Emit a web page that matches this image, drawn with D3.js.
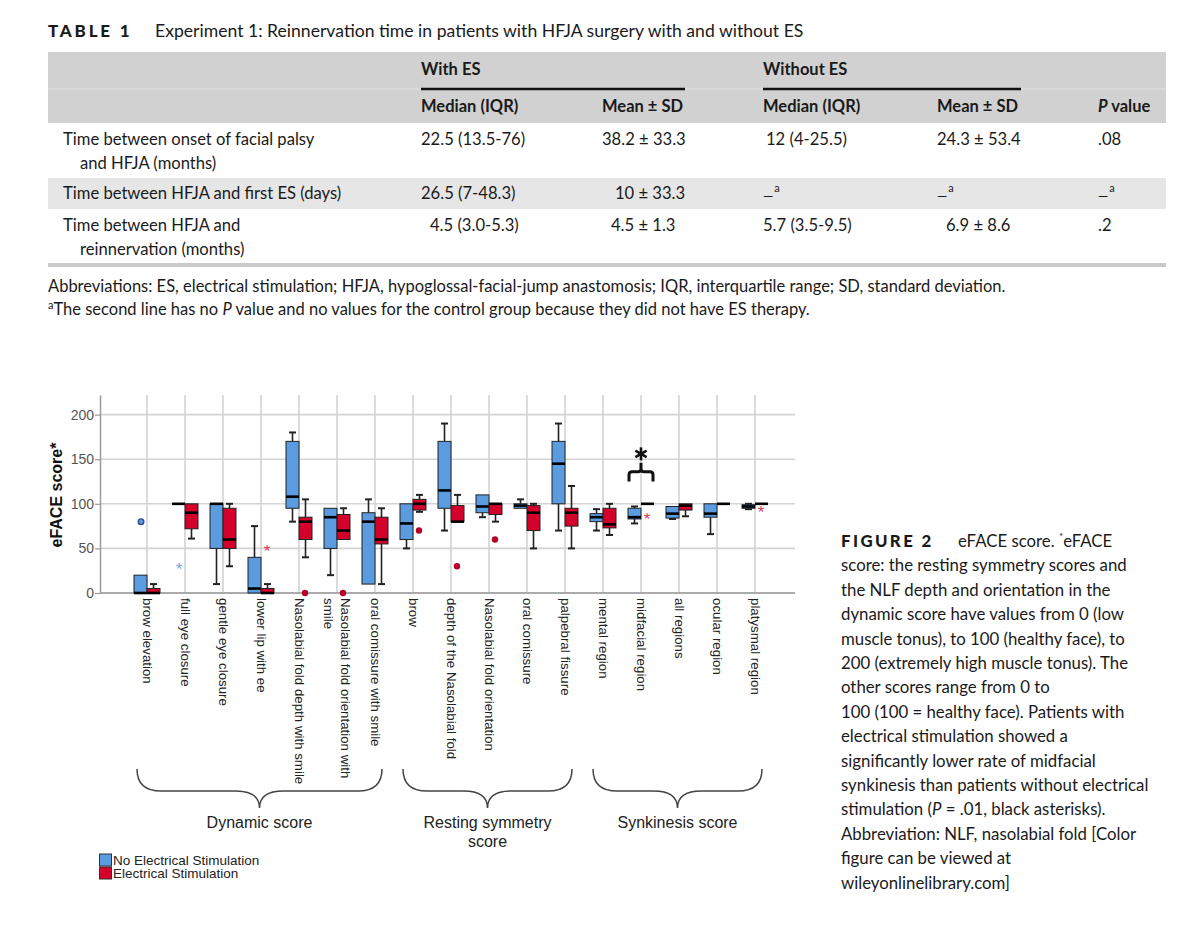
<!DOCTYPE html>
<html>
<head>
<meta charset="utf-8">
<script src="https://cdn.jsdelivr.net/npm/d3@7"></script>
<style>
body { margin: 0; background: #fff; }
</style>
</head>
<body>
<svg id="fig" width="1200" height="948"></svg>
<script>
// ---- table data ----
const tableTitle = "Experiment 1: Reinnervation time in patients with HFJA surgery with and without ES";
const headGroups = ["With ES", "Without ES"];
const headCols = ["Median (IQR)", "Mean \u00b1 SD", "Median (IQR)", "Mean \u00b1 SD", "P value"];
const rowLabels = [
  ["Time between onset of facial palsy", "and HFJA (months)"],
  ["Time between HFJA and first ES (days)"],
  ["Time between HFJA and", "reinnervation (months)"]
];
const rowValues = [
  ["22.5 (13.5-76)", "38.2 \u00b1 33.3", "12 (4-25.5)", "24.3 \u00b1 53.4", ".08"],
  ["26.5 (7-48.3)", "10 \u00b1 33.3", "\u2014a", "\u2014a", "\u2014a"],
  ["4.5 (3.0-5.3)", "4.5 \u00b1 1.3", "5.7 (3.5-9.5)", "6.9 \u00b1 8.6", ".2"]
];
const abbrevText = "Abbreviations: ES, electrical stimulation; HFJA, hypoglossal-facial-jump anastomosis; IQR, interquartile range; SD, standard deviation.";

// ---- chart data ----
const categories = [
  "brow elevation", "full eye closure", "gentle eye closure", "lower lip with ee",
  "Nasolabial fold depth with smile", "Nasolabial fold orientation with smile",
  "oral comissure with smile",
  "brow", "depth of the Nasolabial fold", "Nasolabial fold orientation",
  "oral comissure", "palpebral fissure",
  "mental region", "midfacial region", "all regions", "ocular region", "platysmal region"
];
// [min, q1, median, q3, max]
const noEsStats = [
  [0, 0, 0, 20, 20], [100, 100, 100, 100, 100], [10, 50, 100, 100, 100], [0, 0, 5, 40, 75],
  [80, 95, 108, 170, 180], [20, 50, 85, 95, 95], [10, 10, 80, 90, 105],
  [50, 60, 78, 100, 100], [70, 95, 115, 170, 190], [85, 90, 97, 110, 110],
  [95, 95, 98, 100, 105], [70, 100, 145, 170, 190],
  [70, 80, 85, 89, 94], [78, 83, 85, 95, 97], [83, 84, 89, 97, 97], [66, 85, 89, 100, 100], [94, 95, 97, 99, 100]
];
const esStats = [
  [0, 0, 0, 5, 10], [61, 72, 90, 100, 100], [30, 50, 60, 95, 100], [0, 0, 0, 5, 10],
  [40, 60, 80, 85, 105], [60, 60, 70, 88, 95], [10, 55, 60, 85, 95],
  [91, 93, 100, 105, 110], [80, 80, 80, 98, 110], [80, 88, 100, 100, 100],
  [50, 70, 90, 98, 100], [50, 75, 90, 95, 120],
  [65, 73, 77, 95, 100], [100, 100, 100, 100, 100], [86, 93, 98, 100, 100], [100, 100, 100, 100, 100], [100, 100, 100, 100, 100]
];
// outliers: category index, group (0 = no ES, 1 = ES), value, kind
const outlierCat = [0, 1, 3, 4, 5, 7, 8, 9, 13, 16];
const outlierGroup = [0, 0, 1, 1, 1, 1, 1, 1, 1, 1];
const outlierValue = [80, 30, 50, 0, 0, 70, 30, 60, 86, 94];
const outlierKind = ["circle", "star", "star", "dot", "dot", "dot", "dot", "dot", "star", "star"];
const yTicks = [0, 50, 100, 150, 200];
const groupNames = [["Dynamic score"], ["Resting symmetry", "score"], ["Synkinesis score"]];
const groupFirst = [0, 7, 12];
const groupLast = [6, 11, 16];
const legendNames = ["No Electrical Stimulation", "Electrical Stimulation"];
const seriesColors = ["#5b9be0", "#d3002b"];
const sigCategory = "midfacial region";

const captionLines = [
  "score: the resting symmetry scores and",
  "the NLF depth and orientation in the",
  "dynamic score have values from 0 (low",
  "muscle tonus), to 100 (healthy face), to",
  "200 (extremely high muscle tonus). The",
  "other scores range from 0 to",
  "100 (100 = healthy face). Patients with",
  "electrical stimulation showed a",
  "significantly lower rate of midfacial",
  "synkinesis than patients without electrical",
  "stimulation (P = .01, black asterisks).",
  "Abbreviation: NLF, nasolabial fold [Color",
  "figure can be viewed at",
  "wileyonlinelibrary.com]"
];

const svg = d3.select("#fig");
svg.append("rect").attr("width", 1200).attr("height", 948).attr("fill", "#fff");

const LATO = "Lato, 'Noto Sans', sans-serif";
const ARIAL = "'Liberation Sans', Arial, sans-serif";

// ================= TABLE =================
let tbl = svg.append("g").attr("font-family", LATO).attr("fill", "#1a1a1a");

tbl.append("text").attr("x", 48).attr("y", 37)
  .attr("font-size", 17).attr("font-weight", 900).attr("letter-spacing", 2.8)
  .text("TABLE 1");
tbl.append("text").attr("x", 155).attr("y", 37).attr("font-size", 17.6).text(tableTitle);

tbl.append("rect").attr("x", 48).attr("y", 52).attr("width", 1118).attr("height", 71).attr("fill", "#d1d1d1");
tbl.append("line").attr("x1", 48).attr("x2", 1166).attr("y1", 89).attr("y2", 89)
  .attr("stroke", "#dadada").attr("stroke-width", 2);
tbl.append("rect").attr("x", 48).attr("y", 178).attr("width", 1118).attr("height", 31).attr("fill", "#e6e6e6");
tbl.append("line").attr("x1", 48).attr("x2", 1166).attr("y1", 265).attr("y2", 265)
  .attr("stroke", "#c9c9c9").attr("stroke-width", 4);

const groupX = [421, 763];
const groupEndX = [685, 1021];
headGroups.forEach(function(g, i) {
  tbl.append("text").attr("x", groupX[i]).attr("y", 75).attr("font-size", 16.5).attr("font-weight", 700).text(g);
  tbl.append("line").attr("x1", groupX[i]).attr("x2", groupEndX[i]).attr("y1", 89).attr("y2", 89)
    .attr("stroke", "#111").attr("stroke-width", 2.5);
});

const colX = [421, 602, 763, 937, 1098];
headCols.forEach(function(c, i) {
  let t = tbl.append("text").attr("x", colX[i]).attr("y", 112).attr("font-size", 16.5).attr("font-weight", 700);
  if (c.startsWith("P ")) {
    t.append("tspan").attr("font-style", "italic").text("P");
    t.append("tspan").text(c.slice(1));
  } else t.text(c);
});

const rowBase = [145, 199, 231];
const cellX = [
  [421, 602, 766, 937, 1098],
  [421, 615, 763, 937, 1098],
  [430, 611, 763, 946, 1098]
];
rowLabels.forEach(function(lines, r) {
  lines.forEach(function(l, k) {
    tbl.append("text").attr("x", k === 0 ? 63 : 80).attr("y", rowBase[r] + k * 24)
      .attr("font-size", 16.6).text(l);
  });
  rowValues[r].forEach(function(v, c) {
    let t = tbl.append("text").attr("x", cellX[r][c]).attr("y", rowBase[r]).attr("font-size", 16.6);
    if (v.endsWith("a") && v.startsWith("\u2014")) {
      t.append("tspan").attr("dy", 2).attr("font-size", 13).text("\u2014");
      t.append("tspan").attr("font-size", 11).attr("dy", -9).attr("dx", 1).text("a");
    } else t.text(v);
  });
});

tbl.append("text").attr("x", 48).attr("y", 292).attr("font-size", 16.5).text(abbrevText);
let fn = tbl.append("text").attr("x", 48).attr("y", 315).attr("font-size", 16.5);
fn.append("tspan").attr("font-size", 11).attr("dy", -6).text("a");
fn.append("tspan").attr("dy", 6).text("The second line has no ");
fn.append("tspan").attr("font-style", "italic").text("P");
fn.append("tspan").text(" value and no values for the control group because they did not have ES therapy.");

// ================= CHART =================
const plotLeft = 100, plotRight = 795;
const y = d3.scaleLinear().domain([0, 222]).range([593, 395]);
const x = d3.scalePoint().domain(categories).range([147, 755]);
const boxW = 13;

let chart = svg.append("g").attr("font-family", ARIAL);

// grid
chart.append("g").selectAll("line").data(yTicks).enter().append("line")
  .attr("x1", plotLeft).attr("x2", plotRight)
  .attr("y1", function(d) { return y(d); }).attr("y2", function(d) { return y(d); })
  .attr("stroke", "#d3d3d3").attr("stroke-width", 1.6);
chart.append("g").selectAll("line").data(categories).enter().append("line")
  .attr("x1", function(d) { return x(d); }).attr("x2", function(d) { return x(d); })
  .attr("y1", y.range()[1]).attr("y2", y(0))
  .attr("stroke", "#d3d3d3").attr("stroke-width", 1.6);

// axes
let yAxis = chart.append("g").attr("transform", "translate(" + plotLeft + ",0)")
  .call(d3.axisLeft(y).tickValues(yTicks).tickSize(5).tickSizeOuter(0));
yAxis.select(".domain").attr("stroke", "#9a9a9a").attr("stroke-width", 1.5);
yAxis.selectAll(".tick line").attr("stroke", "#9a9a9a").attr("stroke-width", 1.2);
yAxis.selectAll(".tick text").attr("fill", "#555").attr("font-size", 14).attr("font-family", ARIAL).attr("x", -6);
chart.append("line").attr("x1", plotLeft).attr("x2", plotRight).attr("y1", y(0)).attr("y2", y(0))
  .attr("stroke", "#9a9a9a").attr("stroke-width", 1.5);

chart.append("text")
  .attr("transform", "translate(62," + 495 + ") rotate(-90)")
  .attr("text-anchor", "middle").attr("font-size", 16).attr("font-weight", 700).attr("fill", "#111")
  .text("eFACE score*");

// boxes
function drawBox(stats, side, color) {
  stats.forEach(function(s, i) {
    const cx = x(categories[i]);
    const left = side === 0 ? cx - boxW : cx;
    const mid = left + boxW / 2;
    let g = chart.append("g");
    if (s[4] > s[3]) {
      g.append("line").attr("x1", mid).attr("x2", mid).attr("y1", y(s[3])).attr("y2", y(s[4]))
        .attr("stroke", "#222").attr("stroke-width", 1.6);
      g.append("line").attr("x1", mid - 3.5).attr("x2", mid + 3.5).attr("y1", y(s[4])).attr("y2", y(s[4]))
        .attr("stroke", "#222").attr("stroke-width", 2);
    }
    if (s[0] < s[1]) {
      g.append("line").attr("x1", mid).attr("x2", mid).attr("y1", y(s[1])).attr("y2", y(s[0]))
        .attr("stroke", "#222").attr("stroke-width", 1.6);
      g.append("line").attr("x1", mid - 3.5).attr("x2", mid + 3.5).attr("y1", y(s[0])).attr("y2", y(s[0]))
        .attr("stroke", "#222").attr("stroke-width", 2);
    }
    if (s[3] > s[1]) {
      g.append("rect").attr("x", left).attr("width", boxW)
        .attr("y", y(s[3])).attr("height", y(s[1]) - y(s[3]))
        .attr("fill", color).attr("stroke", "#222").attr("stroke-width", 1);
    }
    g.append("line").attr("x1", left).attr("x2", left + boxW).attr("y1", y(s[2])).attr("y2", y(s[2]))
      .attr("stroke", "#000").attr("stroke-width", 2.6);
  });
}
drawBox(noEsStats, 0, seriesColors[0]);
drawBox(esStats, 1, seriesColors[1]);

// outliers
outlierCat.forEach(function(c, i) {
  const grp = outlierGroup[i];
  const ox = x(categories[c]) + (grp === 0 ? -6 : 6);
  const oy = y(outlierValue[i]);
  const k = outlierKind[i];
  if (k === "circle") {
    chart.append("circle").attr("cx", ox).attr("cy", oy).attr("r", 2.8)
      .attr("fill", seriesColors[0]).attr("stroke", "#2e4f86").attr("stroke-width", 1.4);
  } else if (k === "dot") {
    chart.append("circle").attr("cx", ox).attr("cy", oy).attr("r", 3.2).attr("fill", "#b8002a");
  } else {
    chart.append("text").attr("x", ox).attr("y", oy + 9).attr("text-anchor", "middle")
      .attr("font-size", 17).attr("fill", grp === 0 ? "#6fa6e6" : "#e0355a").text("*");
  }
});

// significance bracket with asterisk
const sx = x(sigCategory);
const yLeg = y(125), yBar = y(136), yStem = y(146);
chart.append("path")
  .attr("d", "M" + (sx - 12) + "," + yLeg + " L" + (sx - 12) + "," + (yBar + 3) +
    " Q" + (sx - 12) + "," + yBar + " " + (sx - 9) + "," + yBar +
    " L" + (sx - 3) + "," + yBar + " Q" + sx + "," + yBar + " " + sx + "," + (yBar - 3) +
    " L" + sx + "," + yStem +
    " M" + sx + "," + (yBar - 3) + " Q" + sx + "," + yBar + " " + (sx + 3) + "," + yBar +
    " L" + (sx + 9) + "," + yBar + " Q" + (sx + 12) + "," + yBar + " " + (sx + 12) + "," + (yBar + 3) +
    " L" + (sx + 12) + "," + yLeg)
  .attr("fill", "none").attr("stroke", "#111").attr("stroke-width", 3);
const ay = y(156), ar = 6.5;
chart.append("g").selectAll("line").data([90, 30, 150]).enter().append("line")
  .attr("x1", function(a) { return sx - ar * Math.cos(a * Math.PI / 180); })
  .attr("x2", function(a) { return sx + ar * Math.cos(a * Math.PI / 180); })
  .attr("y1", function(a) { return ay - ar * Math.sin(a * Math.PI / 180); })
  .attr("y2", function(a) { return ay + ar * Math.sin(a * Math.PI / 180); })
  .attr("stroke", "#111").attr("stroke-width", 2.6);

// category labels
const labelLines = categories.map(function(c) {
  return c === "Nasolabial fold orientation with smile" ? ["Nasolabial fold orientation with", "smile"] : [c];
});
labelLines.forEach(function(lines, i) {
  let g = chart.append("g").attr("transform", "translate(" + x(categories[i]) + ",598) rotate(90)");
  lines.forEach(function(l, k) {
    const off = lines.length === 1 ? 4.5 : (k === 0 ? -3.5 : 13.5);
    g.append("text").attr("x", 0).attr("y", off).attr("font-size", 13.3).attr("fill", "#222").text(l);
  });
});

// group braces
groupNames.forEach(function(names, i) {
  const x1 = x(categories[groupFirst[i]]) - 10;
  const x2 = x(categories[groupLast[i]]) + 7;
  const m = (x1 + x2) / 2;
  const y0 = 769, y1 = 791, y2 = 808, r = 24;
  chart.append("path")
    .attr("d", "M" + x1 + "," + y0 + " Q" + x1 + "," + y1 + " " + (x1 + r) + "," + y1 +
      " L" + (m - r) + "," + y1 + " Q" + m + "," + y1 + " " + m + "," + y2 +
      " Q" + m + "," + y1 + " " + (m + r) + "," + y1 +
      " L" + (x2 - r) + "," + y1 + " Q" + x2 + "," + y1 + " " + x2 + "," + y0)
    .attr("fill", "none").attr("stroke", "#444").attr("stroke-width", 1.5);
  names.forEach(function(n, k) {
    chart.append("text").attr("x", m).attr("y", 828 + k * 19).attr("text-anchor", "middle")
      .attr("font-size", 16).attr("fill", "#222").text(n);
  });
});

// legend
legendNames.forEach(function(n, i) {
  chart.append("rect").attr("x", 99.5).attr("y", 854 + i * 13).attr("width", 12).attr("height", 12)
    .attr("fill", seriesColors[i]).attr("stroke", "#333").attr("stroke-width", 1);
  chart.append("text").attr("x", 113).attr("y", 865 + i * 13).attr("font-size", 13.5)
    .attr("fill", "#222").text(n);
});

// ================= CAPTION =================
let cap = svg.append("g").attr("font-family", LATO).attr("fill", "#1a1a1a").attr("font-size", 16.8);
let c0 = cap.append("text").attr("x", 841).attr("y", 547);
c0.append("tspan").attr("font-weight", 900).attr("letter-spacing", 2.4).attr("font-size", 16.8).text("FIGURE 2");
c0.append("tspan").attr("x", 958).text("eFACE score. ");
c0.append("tspan").attr("font-size", 10).attr("dy", -7).text("*");
c0.append("tspan").attr("dy", 7).text("eFACE");
captionLines.forEach(function(l, i) {
  let t = cap.append("text").attr("x", 841).attr("y", 547 + (i + 1) * 24.4);
  if (l.indexOf("(P =") >= 0) {
    const parts = l.split("P =");
    t.append("tspan").text(parts[0]);
    t.append("tspan").attr("font-style", "italic").text("P");
    t.append("tspan").text(" =" + parts[1]);
  } else t.text(l);
});
</script>
</body>
</html>
